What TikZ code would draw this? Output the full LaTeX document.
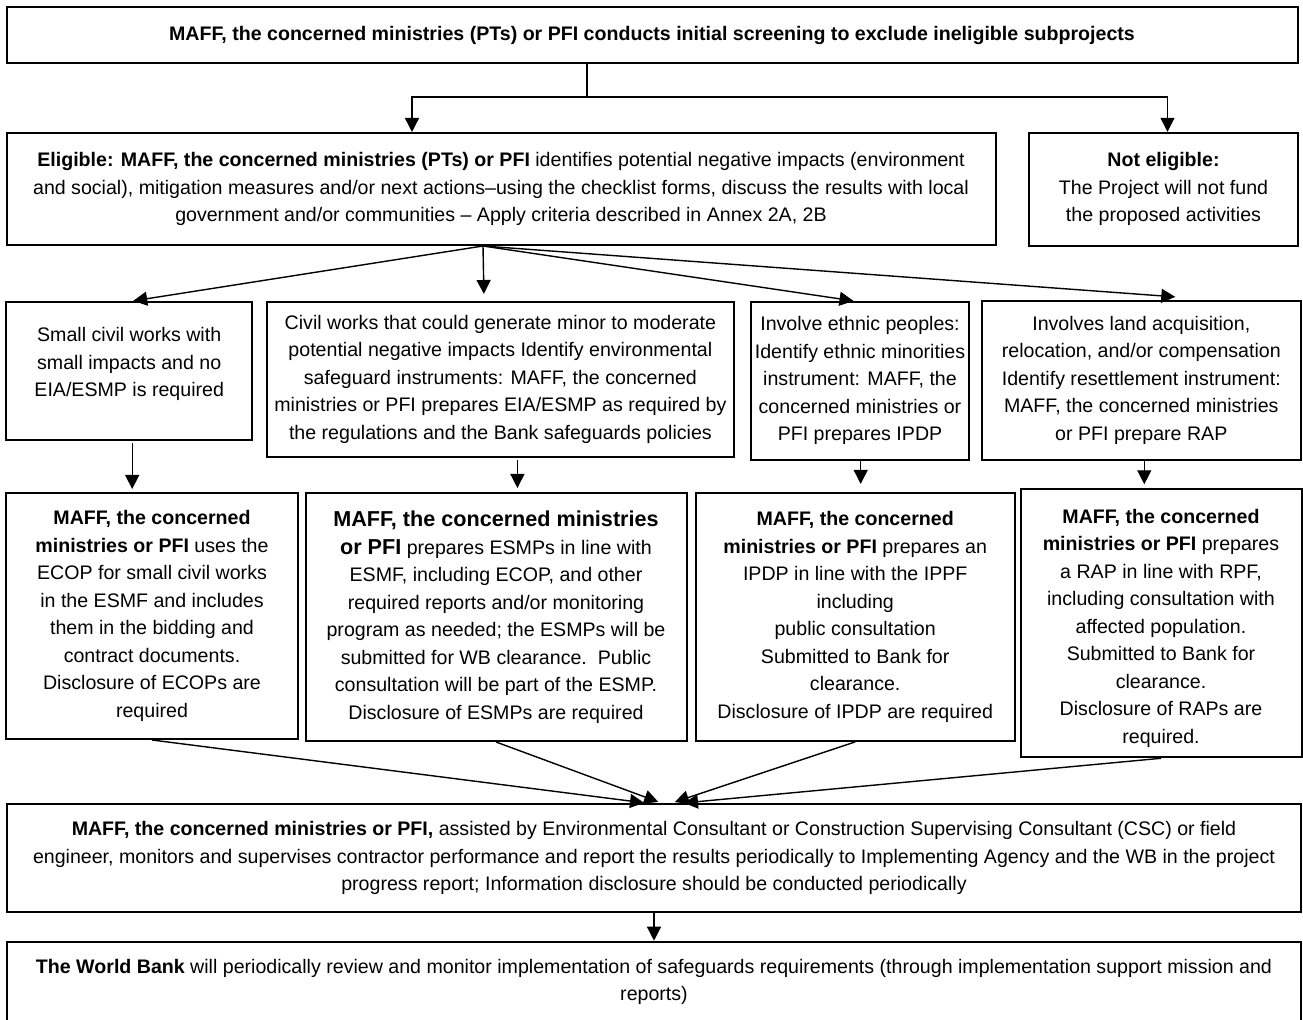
\documentclass[tikz,border=0pt]{standalone}
\usepackage{fontspec}
\setmainfont{Liberation Sans}
\usetikzlibrary{arrows.meta,calc}
\tikzset{
  box/.style={draw, line width=1pt, align=center, inner sep=2pt,
    font=\fontsize{9.8}{13.75}\selectfont},
  arr/.style={-{Triangle[length=7pt,width=7pt]}, line width=0.7pt},
}
\newcommand{\bigbf}[1]{{\fontsize{10.8}{15}\selectfont\bfseries #1}}
\begin{document}
\begin{tikzpicture}[x=0.5pt,y=-0.5pt]
  \useasboundingbox (0,0) rectangle (1303,1020);
  \node[box, minimum width=645.5pt, minimum height=28pt] (screen) at (652,35)
    {\textbf{MAFF, the concerned ministries (PTs) or PFI conducts initial screening to exclude ineligible subprojects}};
  \node[box, minimum width=494.5pt, minimum height=56pt] (elig) at (501,189)
    {\textbf{Eligible: MAFF, the concerned ministries (PTs) or PFI} identifies potential negative impacts (environment\\
     and social), mitigation measures and/or next actions--using the checklist forms, discuss the results with local\\
     government and/or communities -- Apply criteria described in Annex 2A, 2B};
  \node[box, minimum width=134.5pt, minimum height=56.5pt] (notel) at (1163.5,189.3)
    {\textbf{Not eligible:}\\ The Project will not fund\\ the proposed activities};
  \node[box, minimum width=123.25pt, minimum height=69pt] (small) at (129.2,370.9)
    {Small civil works with\\ small impacts and no\\ EIA/ESMP is required\\[-5pt]\mbox{}};
  \node[box, minimum width=233.5pt, minimum height=77.5pt] (civil) at (500.4,379.2)
    {Civil works that could generate minor to moderate\\ potential negative impacts Identify environmental\\
     safeguard instruments: MAFF, the concerned\\ ministries or PFI prepares EIA/ESMP as required by\\
     the regulations and the Bank safeguards policies};
  \node[box, minimum width=109pt, minimum height=79pt] (ethnic) at (860,380.9)
    {Involve ethnic peoples:\\ Identify ethnic minorities\\ instrument: MAFF, the\\ concerned ministries or\\ PFI prepares IPDP};
  \node[box, minimum width=159.5pt, minimum height=79.5pt] (land) at (1141.3,380.4)
    {Involves land acquisition,\\ relocation, and/or compensation\\ Identify resettlement instrument:\\
     MAFF, the concerned ministries\\ or PFI prepare RAP};
  \node[box, minimum width=146pt, minimum height=123pt] (ecop) at (152,616)
    {\textbf{MAFF, the concerned}\\ \textbf{ministries or PFI} uses the\\ ECOP for small civil works\\
     in the ESMF and includes\\ them in the bidding and\\ contract documents.\\ Disclosure of ECOPs are\\ required};
  \node[box, minimum width=190.5pt, minimum height=124pt] (esmp) at (496,617)
    {\bigbf{MAFF, the concerned ministries}\\ \bigbf{or PFI} prepares ESMPs in line with\\ ESMF, including ECOP, and other\\
     required reports and/or monitoring\\ program as needed; the ESMPs will be\\ submitted for WB clearance.\ \ Public\\
     consultation will be part of the ESMP.\\ Disclosure of ESMPs are required};
  \node[box, minimum width=159.5pt, minimum height=124pt] (ipdp) at (855.2,616.9)
    {\textbf{MAFF, the concerned}\\ \textbf{ministries or PFI} prepares an\\ IPDP in line with the IPPF\\ including\\
     public consultation\\ Submitted to Bank for\\ clearance.\\ Disclosure of IPDP are required};
  \node[box, minimum width=140.5pt, minimum height=134pt] (rap) at (1161,623.3)
    {\mbox{}\\[-2pt]\textbf{MAFF, the concerned}\\ \textbf{ministries or PFI} prepares\\ a RAP in line with RPF,\\ including consultation with\\
     affected population.\\ Submitted to Bank for\\ clearance.\\ Disclosure of RAPs are\\ required.};
  \node[box, minimum width=647pt, minimum height=54pt] (monitor) at (654,858.3)
    {\textbf{MAFF, the concerned ministries or PFI,} assisted by Environmental Consultant or Construction Supervising Consultant (CSC) or field\\
     engineer, monitors and supervises contractor performance and report the results periodically to Implementing Agency and the WB in the project\\
     progress report; Information disclosure should be conducted periodically};
  \node[box, minimum width=647pt, minimum height=40pt] (wb) at (654,981.7)
    {\textbf{The World Bank} will periodically review and monitor implementation of safeguards requirements (through implementation support mission and\\
     reports)};
  % connectors
  \coordinate (split) at (587,97);
  \coordinate (fan) at ($(elig.south)+(-18,0)$);
  \draw[line width=0.7pt] (screen.south -| split) -- (split);
  \begin{scope}[arr]
    \draw (split) -| ($(elig.north)+(-89,0)$);
    \draw (split) -| ($(notel.north)+(4,0)$);
    \draw (fan) -- ($(small.north)+(4,0)$);
    \draw (fan) -- ($(civil.north)+(-16.5,-6.7)$);
    \draw (fan) -- ($(ethnic.north)+(-6.5,0)$);
    \draw (fan) -- ($(land.north)+(34,-3)$);
    \draw[shorten <=1pt, shorten >=1.5pt] ($(small.south)+(3,0)$) -- ($(small.south |- ecop.north)+(3,0)$);
    \draw[shorten <=1pt, shorten >=2pt] ($(civil.south)+(17,0)$) -- ($(civil.south |- esmp.north)+(17,0)$);
    \draw[shorten >=4pt] ($(ethnic.south)+(0.7,0)$) -- ($(ethnic.south |- ipdp.north)+(0.7,0)$);
    \draw[shorten >=2pt] ($(land.south)+(3,0)$) -- ($(land.south |- rap.north)+(3,0)$);
    \draw[shorten >=2pt] (ecop.south) -- ($(monitor.north)+(-6,0)$);
    \draw[shorten >=2pt] (esmp.south) -- ($(monitor.north)+(8,0)$);
    \draw[shorten >=2pt] (ipdp.south) -- ($(monitor.north)+(17,0)$);
    \draw[shorten >=2pt] (rap.south) -- ($(monitor.north)+(26,0)$);
    \draw (monitor.south) -- (wb.north);
  \end{scope}
\end{tikzpicture}
\end{document}
